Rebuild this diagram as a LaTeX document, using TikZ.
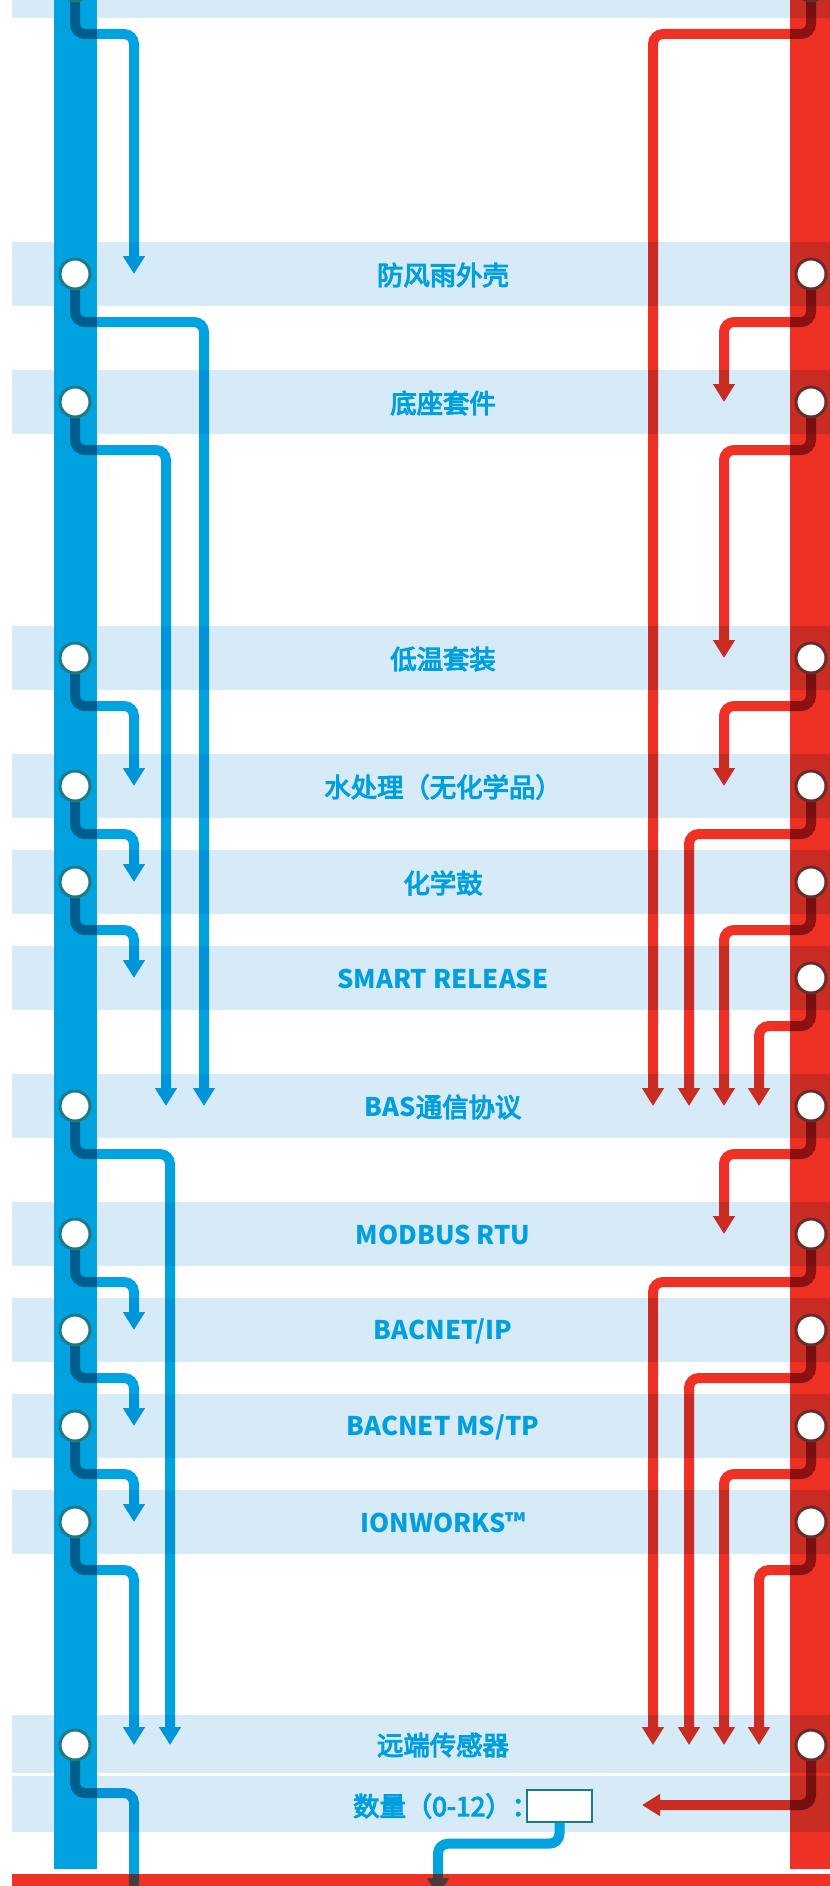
\documentclass[tikz,border=0pt]{standalone}
\usepackage{fontspec}
\setmainfont{Noto Sans CJK SC}
\newfontfamily\cjkmid{Noto Sans CJK SC}[FakeBold=4]
\usetikzlibrary{arrows.meta}

\definecolor{lineblue}{HTML}{00A3E0}
\definecolor{deepblue}{HTML}{005E8C}
\definecolor{linered}{HTML}{EE3124}
\definecolor{deepred}{HTML}{8C1111}
\definecolor{bandblue}{HTML}{D7EAF7}
\definecolor{textblue}{HTML}{00A0E0}
\definecolor{ringblue}{HTML}{1E7A84}
\definecolor{ringred}{HTML}{6A2B2B}
\definecolor{crossdark}{HTML}{4A3B3B}

\newcommand{\latin}[1]{{\normalfont\fontsize{14.6}{18}\selectfont\bfseries #1}}

\tikzset{
  bwire/.style={draw=lineblue, line width=2mm, rounded corners=2mm, -{Triangle[width=4.2mm,length=3.6mm]}},
  rwire/.style={draw=linered, line width=2mm, rounded corners=2mm, -{Triangle[width=4.2mm,length=3.6mm]}},
  bstub/.style={draw=deepblue, line width=2mm, rounded corners=2mm},
  rstub/.style={draw=deepred, line width=2mm, rounded corners=2mm},
  band/.style={fill=bandblue},
  bdot/.style={circle, draw=ringblue, fill=white, line width=0.6mm, minimum size=6mm, inner sep=0pt},
  rdot/.style={circle, draw=ringred, fill=white, line width=0.6mm, minimum size=6mm, inner sep=0pt},
  lbl/.style={text=textblue, font=\cjkmid\fontsize{15}{18}\selectfont, inner sep=0pt},
  qtybox/.style={draw=ringblue, fill=white, line width=0.25mm, minimum width=13mm, minimum height=6.4mm, inner sep=0pt},
}

\begin{document}
\begin{tikzpicture}[x=0.2mm, y=-0.2mm]
  \useasboundingbox (0,0) rectangle (830,1886);
  \clip (0,0) rectangle (830,1886);

  % rows and columns
  \foreach \n/\y in {0/-14,1/274,2/402,3/658,4/786,5/882,6/978,7/1106,8/1234,9/1330,10/1426,11/1522,12/1745}{
    \coordinate (b\n) at (75,\y);
    \coordinate (r\n) at (811,\y);
  }
  \coordinate (colA) at (134,0);
  \coordinate (colB) at (166,0);
  \coordinate (colB2) at (170,0);
  \coordinate (colC) at (204,0);
  \coordinate (colP) at (653,0);
  \coordinate (colQ) at (689,0);
  \coordinate (colR) at (724,0);
  \coordinate (colS) at (759,0);
  \coordinate (bottom) at (0,1890);
  \coordinate (sink) at (438,1896);
  \coordinate (qty) at (642,1805);

  % bars
  \fill[lineblue] (54,0) rectangle (97,1869);
  \fill[linered] (790,0) rectangle (830,1869);
  \fill[linered] (12,1874) rectangle (830,1886);

  % blue side
  \draw[bwire] (b0) -- ++(0,48) -| (colA |- b1);
  \draw[bwire] (b1) -- ++(0,48) -| (colC |- b7);
  \draw[bwire] (b2) -- ++(0,48) -| (colB |- b7);
  \draw[bwire] (b3) -- ++(0,48) -| (colA |- b4);
  \draw[bwire] (b4) -- ++(0,48) -| (colA |- b5);
  \draw[bwire] (b5) -- ++(0,48) -| (colA |- b6);
  \draw[bwire] (b7) -- ++(0,48) -| (colB2 |- b12);
  \draw[bwire] (b8) -- ++(0,48) -| (colA |- b9);
  \draw[bwire] (b9) -- ++(0,48) -| (colA |- b10);
  \draw[bwire] (b10) -- ++(0,48) -| (colA |- b11);
  \draw[bwire] (b11) -- ++(0,48) -| (colA |- b12);
  \draw[bwire, -] (b12) -- ++(0,48) -| (colA |- bottom);
  \foreach \n in {0,1,2,3,4,5,7,8,9,10,11,12}
    \draw[bstub] (b\n) |- ++(22,48);

  % red side
  \draw[rwire] (r0) -- ++(0,48) -| (colP |- r7);
  \draw[rwire] (r1) -- ++(0,48) -| (colR |- r2);
  \draw[rwire] (r2) -- ++(0,48) -| (colR |- r3);
  \draw[rwire] (r3) -- ++(0,48) -| (colR |- r4);
  \draw[rwire] (r4) -- ++(0,48) -| (colQ |- r7);
  \draw[rwire] (r5) -- ++(0,48) -| (colR |- r7);
  \draw[rwire] (r6) -- ++(0,48) -| (colS |- r7);
  \draw[rwire] (r7) -- ++(0,48) -| (colR |- r8);
  \draw[rwire] (r8) -- ++(0,48) -| (colP |- r12);
  \draw[rwire] (r9) -- ++(0,48) -| (colQ |- r12);
  \draw[rwire] (r10) -- ++(0,48) -| (colR |- r12);
  \draw[rwire] (r11) -- ++(0,48) -| (colS |- r12);
  \draw[rwire] (r12) |- (qty);
  \foreach \n in {0,...,11}
    \draw[rstub] (r\n) |- ++(-21,48);
  \draw[rstub] (r12) |- ++(-21,60);

  % bands
  \begin{scope}[blend mode=multiply]
    \foreach \y in {-14,274,402,658,786,882,978,1106,1234,1330,1426,1522}{
      \fill[band] (12,\y-32) rectangle (54,\y+32);
      \fill[band] (97,\y-32) rectangle (830,\y+32);
    }
    \fill[band] (12,1715) rectangle (54,1773);
    \fill[band] (97,1715) rectangle (830,1773);
    \fill[band] (12,1776) rectangle (54,1832);
    \fill[band] (97,1776) rectangle (830,1832);
  \end{scope}

  % stops
  \foreach \n in {0,1,2,3,4,5,7,8,9,10,11,12}
    \node[bdot] (bd\n) at (b\n) {};
  \foreach \n in {0,...,12}
    \node[rdot] (rd\n) at (r\n) {};

  \node[lbl] (t1) at (443,275) {防风雨外壳};
  \node[lbl] (t2) at (443,403) {底座套件};
  \node[lbl] (t3) at (443,659) {低温套装};
  \node[lbl] (t4) at (443,787) {水处理（无化学品）};
  \node[lbl] (t5) at (443,883) {化学鼓};
  \node[lbl] (t6) at (443,979) {\latin{SMART RELEASE}};
  \node[lbl] (t7) at (443,1107) {\latin{BAS}通信协议};
  \node[lbl] (t8) at (443,1235) {\latin{MODBUS RTU}};
  \node[lbl] (t9) at (443,1331) {\latin{BACNET/IP}};
  \node[lbl] (t10) at (443,1427) {\latin{BACNET MS/TP}};
  \node[lbl] (t11) at (443,1523) {\latin{IONWORKS™}};
  \node[lbl] (t12) at (443,1745) {远端传感器};

  % quantity
  \node[qtybox] (numbox) at (559.5,1806) {};
  \node[lbl, anchor=east] (t13) at ([xshift=2.4mm]numbox.west) {数量（0-12）：};
  \draw[bwire] (numbox.south) -- ++(0,21) -| (sink);

  \begin{scope}
    \clip (0,1874) rectangle (830,1886);
    \draw[bwire, -, draw=crossdark] (b12) -- ++(0,48) -| (colA |- bottom);
    \draw[bwire, draw=crossdark] (numbox.south) -- ++(0,21) -| (sink);
  \end{scope}
\end{tikzpicture}
\end{document}
